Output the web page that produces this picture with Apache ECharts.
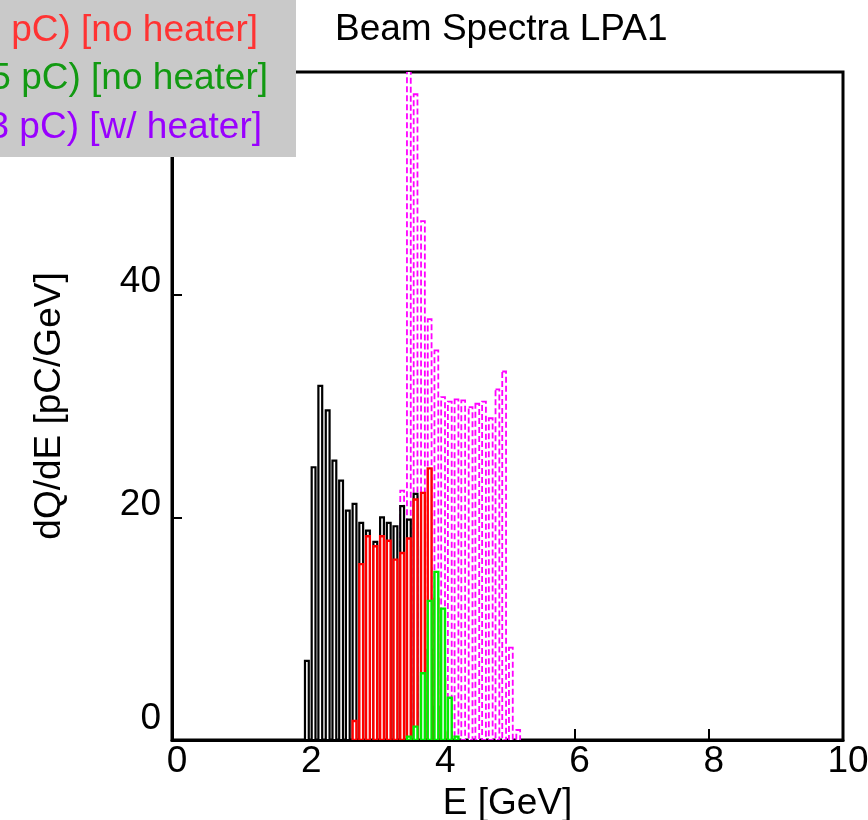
<!DOCTYPE html>
<html><head><meta charset="utf-8">
<script src="https://cdn.jsdelivr.net/npm/echarts@6/dist/echarts.min.js"></script>
<style>html,body{margin:0;padding:0;background:#fff}#c{width:868px;height:820px}</style>
</head><body><div id="c"></div>
<script>
// Bin centres (GeV)
const energy = [2.01, 2.11, 2.21, 2.32, 2.42, 2.52, 2.62, 2.72, 2.82, 2.92, 3.03, 3.13, 3.23, 3.33, 3.43, 3.53,
                3.63, 3.74, 3.84, 3.94, 4.04, 4.14, 4.24, 4.34, 4.45, 4.55, 4.65, 4.75, 4.85, 4.95, 5.05, 5.16];
// dQ/dE [pC/GeV]
const blackCounts = [7.1, 24.5, 31.8, 29.6, 25.1, 23.3, 20.6, 21.2, 19.5, 18.8, 17.8, 20.0, 19.5, 19.2, 21.0, 19.8,
                     22.1, 17.3, 8.1, 3.0, 0.8, null, null, null, null, null, null, null, null, null, null, null];
const redCounts   = [null, null, null, null, null, null, null, 1.7, 15.8, 18.3, 17.4, 18.3, 17.9, 16.2, 16.8, 18.1,
                     21.6, 22.2, 24.4, 12.7, 5.5, 0.65, null, null, null, null, null, null, null, null, null, null];
const greenCounts = [null, null, null, null, null, null, null, null, null, null, null, null, null, null, null, 0.3,
                     1.2, 6.0, 12.5, 15.1, 11.8, 3.8, 0.3, null, null, null, null, null, null, null, null, null];
const magentaCounts = [null, null, null, null, null, null, null, null, null, null, null, null, null, null, 22.4, 64.0,
                       58.0, 46.6, 37.8, 35.0, 30.8, 30.4, 30.6, 30.5, 29.9, 30.2, 30.4, 28.9, 31.5, 33.1, 8.3, 0.9];
const xTicks = [0, 2, 4, 6, 8, 10];
const yTicks = [0, 20, 40, 60];
const legendLines = ['pC) [no heater]', '5 pC) [no heater]', '3 pC) [w/ heater]'];
const titleText = 'Beam Spectra LPA1';

const BIN_WIDTH = 0.1014;
const FONT = 'Liberation Sans, Arial, Helvetica, sans-serif';

function toData(vals) {
  const out = [];
  vals.forEach((v, i) => { if (v !== null) out.push([energy[i], v]); });
  return out;
}
function barRenderer(color, lw, dash) {
  return function (params, api) {
    const x = api.value(0), y = api.value(1);
    const p0 = api.coord([x - BIN_WIDTH / 2, 0]);
    const p1 = api.coord([x + BIN_WIDTH / 2, y]);
    const inset = 1.5;
    return {
      type: 'rect',
      shape: { x: p0[0] + inset, y: p1[1], width: (p1[0] - p0[0]) - 2 * inset, height: p0[1] - p1[1] },
      style: { fill: '#ffffff', stroke: color, lineWidth: lw, lineDash: dash || null }
    };
  };
}
function histSeries(name, vals, color, lw, dash) {
  return {
    name: name, type: 'custom', data: toData(vals), encode: { x: 0, y: 1 },
    clip: true, renderItem: barRenderer(color, lw, dash), silent: true
  };
}

const chart = echarts.init(document.getElementById('c'), null, { renderer: 'canvas' });
chart.setOption({
  animation: false,
  backgroundColor: '#ffffff',
  title: {
    text: titleText, left: 330, top: 6,
    textStyle: { fontFamily: FONT, fontSize: 37, fontWeight: 'normal', color: '#000' }
  },
  grid: { left: 172, top: 72, right: 25, bottom: 80, containLabel: false, outerBoundsMode: 'none',
          show: true, borderColor: '#000', borderWidth: 3, backgroundColor: 'transparent' },
  xAxis: {
    type: 'value', min: xTicks[0], max: xTicks[xTicks.length - 1], interval: 2,
    name: 'E [GeV]', nameLocation: 'middle', nameGap: 42,
    nameTextStyle: { fontFamily: FONT, fontSize: 37, color: '#000' },
    axisLine: { show: true, onZero: false, lineStyle: { color: '#000', width: 3 } },
    axisTick: { show: true, inside: true, length: 11, lineStyle: { color: '#000', width: 2 } },
    axisLabel: { fontFamily: FONT, fontSize: 37, color: '#000', margin: 3, padding: [0, 0, 0, 10],
                 formatter: v => String(v) },
    splitLine: { show: false }
  },
  yAxis: {
    type: 'value', min: yTicks[0], max: yTicks[yTicks.length - 1], interval: 20,
    name: 'dQ/dE [pC/GeV]', nameLocation: 'middle', nameGap: 104,
    nameTextStyle: { fontFamily: FONT, fontSize: 37, color: '#000' },
    axisLine: { show: true, onZero: false, lineStyle: { color: '#000', width: 3 } },
    axisTick: { show: true, inside: true, length: 10, lineStyle: { color: '#000', width: 2 } },
    axisLabel: {
      fontFamily: FONT, fontSize: 37, color: '#000', margin: 11,
      formatter: v => (v === 0 ? '{z|0}' : '{n|' + v + '}'),
      rich: {
        n: { fontFamily: FONT, fontSize: 37, color: '#000', padding: [0, 0, 26, 0] },
        z: { fontFamily: FONT, fontSize: 37, color: '#000', padding: [0, 0, 42, 0] }
      }
    },
    splitLine: { show: false }
  },
  series: [
    histSeries('w/ heater', magentaCounts, '#ff00ff', 1.8, [6, 3]),
    histSeries('black', blackCounts, '#000000', 2.2),
    histSeries('red', redCounts, '#ff0000', 2.4),
    histSeries('green', greenCounts, '#00ee00', 2.4)
  ],
  graphic: [
    { type: 'rect', z: 100, shape: { x: 0, y: 0, width: 296, height: 157 }, style: { fill: '#c9c9c9' } },
    { type: 'text', z: 101, x: 258, y: 31, style: { text: legendLines[0], align: 'right', verticalAlign: 'middle', fontFamily: FONT, fontSize: 37, fill: '#ff3333' } },
    { type: 'text', z: 101, x: 268, y: 79, style: { text: legendLines[1], align: 'right', verticalAlign: 'middle', fontFamily: FONT, fontSize: 37, fill: '#129a12' } },
    { type: 'text', z: 101, x: 262, y: 128, style: { text: legendLines[2], align: 'right', verticalAlign: 'middle', fontFamily: FONT, fontSize: 37, fill: '#9900ff' } }
  ]
});
</script>
</body></html>
